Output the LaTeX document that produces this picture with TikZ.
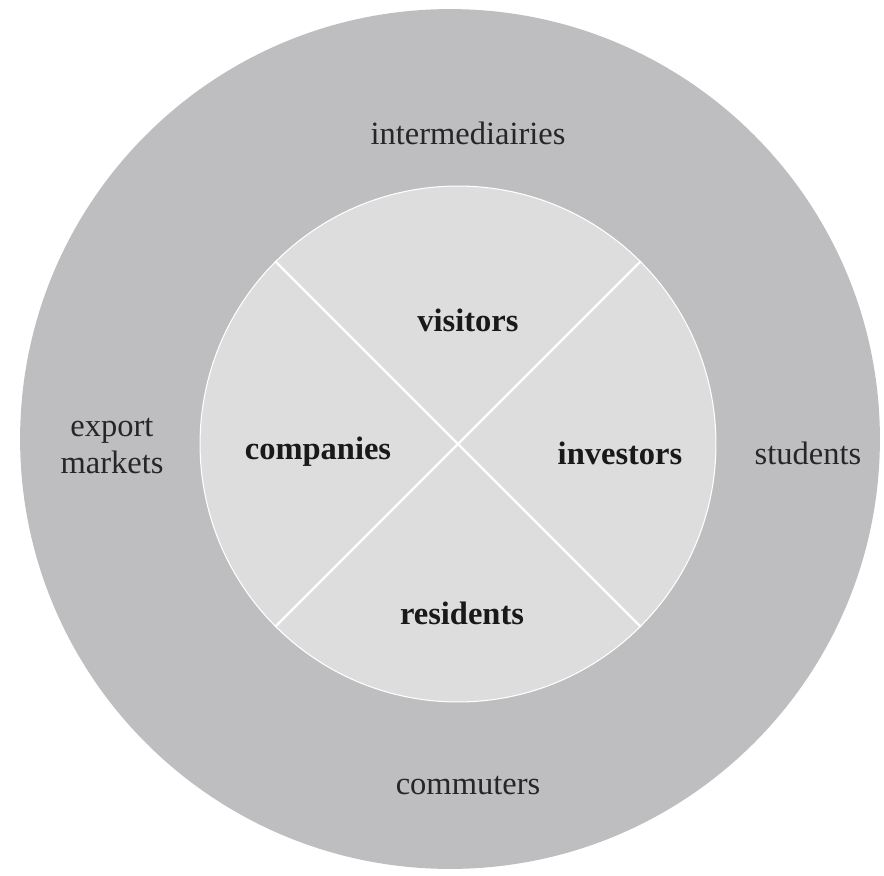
\documentclass[tikz,border=0pt]{standalone}
\usepackage{fontspec}
\setmainfont{Liberation Serif}
\usepackage{xcolor}

\definecolor{ringgray}{RGB}{190,190,192}
\definecolor{coregray}{RGB}{221,221,222}

\begin{document}
\begin{tikzpicture}[x=0.02cm,y=-0.02cm]
%style for outer ring
\tikzstyle{ring} = [circle, fill=ringgray, draw=none, inner sep=0pt, minimum size=17.2cm]

%style for inner disc
\tikzstyle{core} = [circle, fill=coregray, draw=white, line width=0.6pt, inner sep=0pt, minimum size=10.32cm]

%style for outer labels
\tikzstyle{outerlabel} = [font=\fontsize{18.5}{21.5}\selectfont, align=center, text=black!85]

%style for inner labels
\tikzstyle{innerlabel} = [font=\fontsize{18.5}{21.5}\selectfont\bfseries, text=black!90]

\useasboundingbox (0,0) rectangle (884,875);

%place circles
\node[ring] (ring) at (450,439) {};

\node[core] (core) at (458,444) {};

%dividers
\draw[white, line width=1.3pt] (core.135) -- (core.-45);
\draw[white, line width=1.3pt] (core.45) -- (core.225);

%outer labels
\node[outerlabel] (intermediairies) at (468,133) {intermediairies};

\node[outerlabel] (export) at (112,446) {export\\markets};

\node[outerlabel] (students) at (808,453) {students};

\node[outerlabel] (commuters) at (468,785) {commuters};

%inner labels
\node[innerlabel] (visitors) at (468,320) {visitors};

\node[innerlabel] (companies) at (318,452) {companies};

\node[innerlabel] (investors) at (620,453) {investors};

\node[innerlabel] (residents) at (462,613) {residents};
\end{tikzpicture}
\end{document}
